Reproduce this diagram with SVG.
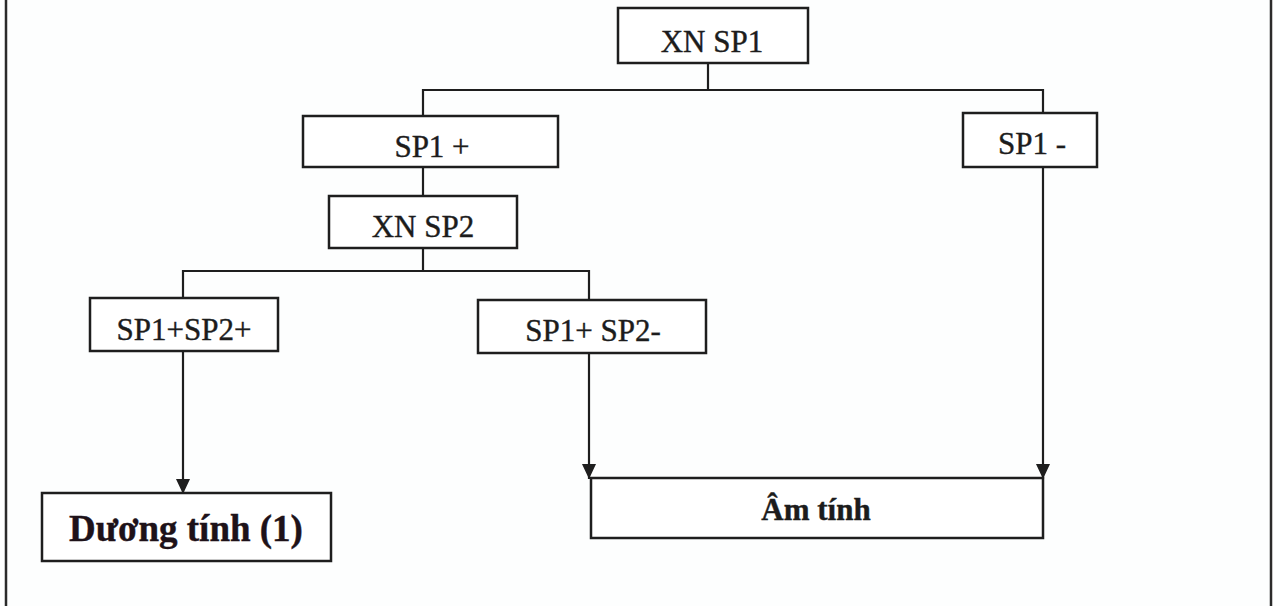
<svg xmlns="http://www.w3.org/2000/svg" width="1280" height="606" viewBox="0 0 1280 606">
  <defs>
    <marker id="arrow" viewBox="0 0 15 14" refX="15" refY="7" markerWidth="15" markerHeight="14" markerUnits="userSpaceOnUse" orient="auto">
      <path d="M0,0 L15,7 L0,14 Z" fill="#1e1e1e"/>
    </marker>
  </defs>
  <style>
    .box { fill: #ffffff; stroke: #1e1e1e; stroke-width: 2.5; }
    .line { fill: none; stroke: #1e1e1e; stroke-width: 2.2; }
    .lbl { font-family: "Liberation Serif", "Times New Roman", serif; font-size: 31px; fill: #1c1c1c; stroke: #1c1c1c; stroke-width: 0.4; text-anchor: middle; }
    .bold { font-weight: bold; }
    .big { font-size: 37px; fill: #1e1219; stroke: #1e1219; }
    .frame { stroke: #2a2a2a; stroke-width: 2.5; }
  </style>
  <rect x="0" y="0" width="1280" height="606" fill="#fdfefe"/>

  <!-- side rules of the page frame -->
  <line class="frame" x1="6" y1="0" x2="6" y2="606"/>
  <line class="frame" x1="1271" y1="0" x2="1271" y2="606"/>

  <g id="connectors">
    <path class="line" d="M708,63 V90"/>
    <path class="line" d="M423,116 V90 H1043 V113"/>
    <path class="line" d="M423,167 V196"/>
    <path class="line" d="M423,248 V271"/>
    <path class="line" d="M183,298 V271 H589 V300"/>
    <path class="line" d="M183,351 V494" marker-end="url(#arrow)"/>
    <path class="line" d="M589,353 V479" marker-end="url(#arrow)"/>
    <path class="line" d="M1043,167 V479" marker-end="url(#arrow)"/>
  </g>

  <g id="xn-sp1">
    <rect class="box" x="618" y="8" width="190" height="55"/>
    <text class="lbl" x="712" y="52">XN SP1</text>
  </g>

  <g id="sp1-pos">
    <rect class="box" x="303" y="116" width="255" height="51"/>
    <text class="lbl" x="432" y="157">SP1 +</text>
  </g>

  <g id="sp1-neg">
    <rect class="box" x="963" y="113" width="134" height="54"/>
    <text class="lbl" x="1032" y="154">SP1 -</text>
  </g>

  <g id="xn-sp2">
    <rect class="box" x="329" y="196" width="188" height="52"/>
    <text class="lbl" x="423" y="237">XN SP2</text>
  </g>

  <g id="sp1-pos-sp2-pos">
    <rect class="box" x="90" y="298" width="188" height="53"/>
    <text class="lbl" x="184" y="340">SP1+SP2+</text>
  </g>

  <g id="sp1-pos-sp2-neg">
    <rect class="box" x="478" y="300" width="228" height="53"/>
    <text class="lbl" x="593" y="341">SP1+ SP2-</text>
  </g>

  <g id="duong-tinh">
    <rect class="box" x="42" y="493" width="289" height="68"/>
    <text class="lbl bold big" x="186" y="541">Dương tính (1)</text>
  </g>

  <g id="am-tinh">
    <rect class="box" x="591" y="478" width="452" height="60"/>
    <text class="lbl bold" x="816" y="520">Âm tính</text>
  </g>
</svg>
